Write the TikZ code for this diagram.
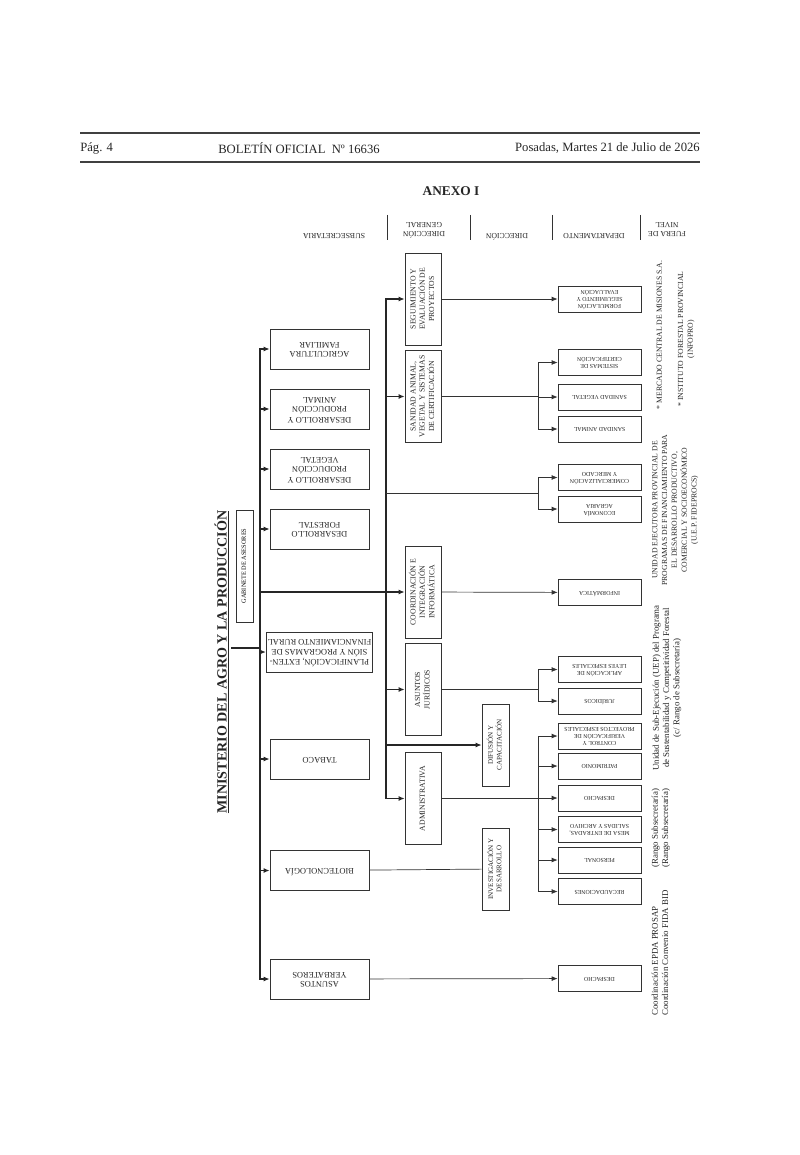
\documentclass[tikz,border=0pt]{standalone}
\usepackage{fontspec}
\setmainfont{Liberation Serif}
\usepackage{tikz}
\usetikzlibrary{arrows.meta,positioning}

\newcommand{\flip}[1]{\rotatebox{180}{\begin{tabular}{@{}c@{}}#1\end{tabular}}}
\newcommand{\turn}[1]{\rotatebox{90}{\begin{tabular}{@{}c@{}}#1\end{tabular}}}
\newcommand{\turnl}[1]{\rotatebox{90}{\begin{tabular}{@{}l@{}}#1\end{tabular}}}

\begin{document}
\begin{tikzpicture}[
    x=0.025cm, y=-0.025cm,
    head/.style={font=\fontsize{9}{11}\selectfont, inner sep=0pt, text=black!85},
    colhead/.style={font=\fontsize{5.5}{6.5}\selectfont, inner sep=0pt, text=black!85},
    subbox/.style={rectangle, draw=black!80, minimum width=2.475cm, minimum height=1cm, inner sep=1pt, font=\fontsize{6}{7}\selectfont, text=black!85},
    dgbox/.style={rectangle, draw=black!80, minimum width=0.9cm, minimum height=2.3cm, inner sep=1pt, font=\fontsize{5.5}{6.5}\selectfont, text=black!85},
    dirbox/.style={rectangle, draw=black!80, minimum width=0.675cm, minimum height=2.05cm, inner sep=1pt, font=\fontsize{5}{6}\selectfont, text=black!85},
    dptbox/.style={rectangle, draw=black!80, minimum width=2.075cm, minimum height=0.66cm, inner sep=1pt, font=\fontsize{4.2}{5}\selectfont, text=black!85},
    note/.style={font=\fontsize{5.5}{7}\selectfont, inner sep=0pt, text=black!85},
    smallnote/.style={font=\fontsize{6.3}{7.3}\selectfont, inner sep=0pt, text=black!85},
    trunk/.style={line width=1.2pt, black!85},
    link/.style={line width=0.5pt, black!80},
    arrow/.style={-{Latex[length=1.5mm, width=1.2mm]}},
]
\fill[white] (0,0) rectangle (800,1155);
\useasboundingbox (0,0) rectangle (800,1155);

% Page header
\draw[line width=1.1pt, black!75] (80,133) -- (700,133);
\draw[line width=1.1pt, black!75] (80,162) -- (700,162);
\node[head, anchor=west] (pag) at (80,148) {Pág. 4};
\node[head, anchor=west] (bol) at (218,148) {BOLETÍN OFICIAL\ \ Nº 16636};
\node[head, anchor=east] (fecha) at (700,148) {Posadas, Martes 21 de Julio de 2026};

\node[font=\bfseries\fontsize{9.5}{11}\selectfont, text=black!85] (anexo) at (451,191) {ANEXO I};

% Column headers
\node[colhead] (hsub) at (334,235) {\flip{SUBSECRETARIA}};
\node[colhead] (hdg) at (424,229) {\flip{DIRECCIÓN\\GENERAL}};
\node[colhead] (hdir) at (507,235) {\flip{DIRECCIÓN}};
\node[colhead] (hdpt) at (594,235) {\flip{DEPARTAMENTO}};
\node[colhead] (hfue) at (667,229) {\flip{FUERA DE\\NIVEL}};
\foreach \x in {387,470,552,640}
    \draw[link] (\x,215) -- (\x,240);

% Ministerio
\node[font=\bfseries\fontsize{10}{12}\selectfont, inner sep=1pt, text=black!85] (min) at (222,662) {\rotatebox{90}{\underline{MINISTERIO DEL AGRO Y LA PRODUCCIÓN}}};
\node[rectangle, draw=black!80, minimum width=0.425cm, minimum height=2.8cm, inner sep=0pt, font=\fontsize{4.5}{5}\selectfont] (gab) at (244.5,566) {\turn{GABINETE DE ASESORES}};

% Subsecretarias
\node[subbox] (agri) at (319.5,349) {\flip{AGRICULTURA\\FAMILIAR}};
\node[subbox] (danim) at (319.5,409) {\flip{DESARROLLO Y\\PRODUCCIÓN\\ANIMAL}};
\node[subbox] (dveg) at (319.5,469) {\flip{DESARROLLO Y\\PRODUCCIÓN\\VEGETAL}};
\node[subbox] (dfor) at (319.5,529) {\flip{DESARROLLO\\FORESTAL}};
\node[subbox] (plan) at (319.5,652) {\flip{PLANIFICACIÓN, EXTEN-\\SIÓN Y PROGRAMAS DE\\FINANCIAMIENTO RURAL}};
\node[subbox] (tabaco) at (319.5,759) {\flip{TABACO}};
\node[subbox] (biotec) at (319.5,870.5) {\flip{BIOTECNOLOGÍA}};
\node[subbox] (yerba) at (319.5,979) {\flip{ASUNTOS\\YERBATEROS}};

% Direcciones generales
\node[dgbox] (seg) at (423,299) {\turn{SEGUIMIENTO Y\\EVALUACIÓN DE\\PROYECTOS}};
\node[dgbox] (sanid) at (423,396.5) {\turn{SANIDAD ANIMAL,\\VEGETAL Y SISTEMAS\\DE CERTIFICACIÓN}};
\node[dgbox] (coord) at (423,592) {\turn{COORDINACIÓN E\\INTEGRACIÓN\\INFORMÁTICA}};
\node[dgbox] (asj) at (423,689.5) {\turn{ASUNTOS\\JURÍDICOS}};
\node[dgbox] (adm) at (423,798.5) {\turn{ADMINISTRATIVA}};

% Direcciones
\node[dirbox] (difu) at (495.5,745) {\turn{DIFUSIÓN Y\\CAPACITACIÓN}};
\node[dirbox] (inves) at (495.5,869) {\turn{INVESTIGACIÓN Y\\DESARROLLO}};

% Departamentos
\node[dptbox] (form) at (599.5,299) {\flip{FORMULACIÓN\\SEGUIMIENTO Y\\EVALUACIÓN}};
\node[dptbox] (sist) at (599.5,362.5) {\flip{SISTEMAS DE\\CERTIFICACIÓN}};
\node[dptbox] (sveg) at (599.5,397) {\flip{SANIDAD VEGETAL}};
\node[dptbox] (sanim) at (599.5,429) {\flip{SANIDAD ANIMAL}};
\node[dptbox] (comer) at (599.5,477.5) {\flip{COMERCIALIZACIÓN\\Y MERCADO}};
\node[dptbox] (econ) at (599.5,509) {\flip{ECONOMÍA\\AGRARIA}};
\node[dptbox] (inform) at (599.5,592.5) {\flip{INFORMÁTICA}};
\node[dptbox] (aplic) at (599.5,669.5) {\flip{APLICACIÓN DE\\LEYES ESPECIALES}};
\node[dptbox] (jurid) at (599.5,701) {\flip{JURÍDICOS}};
\node[dptbox] (control) at (599.5,736) {\flip{CONTROL Y\\VERIFICACIÓN DE\\PROYECTOS ESPECIALES}};
\node[dptbox] (patrim) at (599.5,766) {\flip{PATRIMONIO}};
\node[dptbox] (desp1) at (599.5,798) {\flip{DESPACHO}};
\node[dptbox] (mesa) at (599.5,829.5) {\flip{MESA DE ENTRADAS,\\SALIDAS Y ARCHIVO}};
\node[dptbox] (pers) at (599.5,860) {\flip{PERSONAL}};
\node[dptbox] (recaud) at (599.5,891.5) {\flip{RECAUDACIONES}};
\node[dptbox] (desp2) at (599.5,978.5) {\flip{DESPACHO}};

% Fuera de nivel
\node[note] (merc) at (660,335) {\turn{* MERCADO CENTRAL DE MISIONES S.A.}};
\node[note] (infopro) at (686,339) {\turn{* INSTITUTO FORESTAL PROVINCIAL\\(INFOPRO)}};
\node[note] (uep) at (675,510) {\turn{UNIDAD EJECUTORA PROVINCIAL DE\\PROGRAMAS DE FINANCIAMIENTO PARA\\EL DESARROLLO PRODUCTIVO,\\COMERCIAL Y SOCIOECONÓMICO\\(U.E.P. FIDEPROCS)}};
\node[smallnote] (uef) at (667,688) {\turn{Unidad de Sub-Ejecución (UEP) del Programa\\de Sustentabilidad y Competitividad Forestal\\(c/ Rango de Subsecretaría)}};
\node[smallnote, anchor=south] (rango) at (661,868) {\turnl{(Rango Subsecretaría)\\(Rango Subsecretaría)}};
\node[smallnote, anchor=south] (epda) at (661,1016) {\turnl{Coordinación EPDA PROSAP\\Coordinación Convenio FIDA BID}};

% Trunks
\coordinate (ss) at (260,648);
\coordinate (dg) at (386,592);
\coordinate (brx) at (538,0);
\coordinate (comx) at (538,493);

\draw[trunk] (min.east |- ss) -- (ss);
\draw[trunk, arrow] (ss) |- (agri);
\draw[trunk, arrow] (ss) |- (yerba);
\foreach \n in {danim,dveg,dfor,plan,tabaco,biotec}
    \draw[trunk, arrow] (ss |- \n) -- (\n);

\draw[trunk, arrow] (ss |- coord) -- (coord);
\draw[trunk, arrow] (dg) |- (seg);
\draw[trunk, arrow] (dg) |- (adm);
\foreach \n in {sanid,asj,difu}
    \draw[trunk, arrow] (dg |- \n) -- (\n);

% Links to departamentos
\draw[link, arrow] (seg) -- (form);
\draw[link] (sanid) -- (brx |- sanid);
\draw[link] (brx |- sist) -- (brx |- sanim);
\foreach \n in {sist,sveg,sanim}
    \draw[link, arrow] (brx |- \n) -- (\n);

\draw[link] (dg |- comx) -- (comx);
\draw[link] (brx |- comer) -- (brx |- econ);
\foreach \n in {comer,econ}
    \draw[link, arrow] (brx |- \n) -- (\n);

\draw[link, arrow] (coord) -- (inform);

\draw[link] (asj) -- (brx |- asj);
\draw[link] (brx |- aplic) -- (brx |- jurid);
\foreach \n in {aplic,jurid}
    \draw[link, arrow] (brx |- \n) -- (\n);

\draw[link] (adm) -- (brx |- adm);
\draw[link] (brx |- control) -- (brx |- recaud);
\foreach \n in {control,patrim,desp1,mesa,pers,recaud}
    \draw[link, arrow] (brx |- \n) -- (\n);

\draw[link] (biotec) -- (inves);
\draw[link, arrow] (yerba) -- (desp2);

\end{tikzpicture}
\end{document}
